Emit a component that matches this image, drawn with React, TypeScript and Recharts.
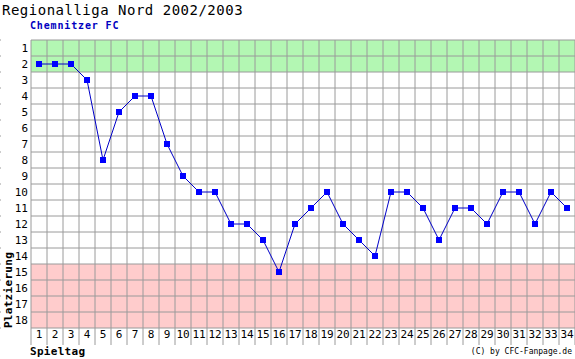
import { CartesianGrid, Line, LineChart, XAxis, YAxis } from "recharts";

const days = Array.from({ length: 34 }, (_, i) => i + 1);
const places = Array.from({ length: 18 }, (_, i) => i + 1);
const ranks = [
  2, 2, 2, 3, 8, 5, 4, 4, 7, 9, 10, 10, 12, 12, 13, 15, 12, 11, 10, 12, 13, 14,
  10, 10, 11, 13, 11, 11, 12, 10, 10, 12, 10, 11
];
const promotionPlaces = 2;
const relegationFrom = 15;

const data = days.map((day, i) => ({ day, rank: ranks[i] }));
const dayDomain: [number, number] = [0.5, days.length + 0.5];
const placeDomain: [number, number] = [0.5, places.length + 0.5];
const dayLines = [...days.map((d) => d - 0.5), days.length + 0.5];
const placeLines = [...places.map((p) => p - 0.5), places.length + 0.5];
const rowFills = places.map((p) =>
  p <= promotionPlaces ? "#b3f7b3" : p >= relegationFrom ? "#ffcccc" : "#ffffff"
);

const mono = "'DejaVu Sans Mono', monospace";
const gridColor = "#9a9a9a";
const labelStyle = { fill: "#000", fontSize: 11, fontFamily: mono };
const sepStyle = { stroke: gridColor };

// recharts 3 hands the grid generators either a plain d3 scale or a wrapper
function project(axis: any, values: number[]) {
  const s = axis?.scale;
  if (typeof s === "function") return values.map((v) => s(v));
  if (s && typeof s.map === "function") return values.map((v) => s.map(v));
  if (s && typeof s.apply === "function") return values.map((v) => s.apply(v));
  return [];
}

const blank = () => "";
const vGen = ({ xAxis }: any) => project(xAxis, dayLines);
const hGen = ({ yAxis }: any) => project(yAxis, placeLines);

function SquareDot(props: any) {
  const { cx, cy, index } = props;
  if (cx == null || cy == null) return null;
  return <rect key={index} x={cx - 3} y={cy - 3} width={6} height={6} fill="#0000ff" />;
}

export default function App() {
  return (
    <div
      style={{
        position: "absolute",
        left: 0,
        top: 0,
        width: 575,
        height: 359,
        background: "#fff",
        fontFamily: mono,
        overflow: "hidden"
      }}
    >
      <LineChart
        width={575}
        height={359}
        data={data}
        margin={{ top: 40, right: 0, bottom: 10, left: 0 }}
      >
        <CartesianGrid
          xAxisId="cols"
          yAxisId="rows"
          stroke={gridColor}
          strokeOpacity={1}
          horizontalFill={rowFills}
          fillOpacity={1}
          verticalCoordinatesGenerator={vGen}
          horizontalCoordinatesGenerator={hGen}
        />
        <XAxis
          xAxisId="cols"
          dataKey="day"
          type="number"
          domain={dayDomain}
          ticks={dayLines}
          interval={0}
          allowDataOverflow
          height={1}
          tickFormatter={blank}
          tickSize={17}
          axisLine={false}
          tickLine={sepStyle}
        />
        <XAxis
          xAxisId="day"
          dataKey="day"
          type="number"
          domain={dayDomain}
          ticks={days}
          interval={0}
          allowDataOverflow
          height={20}
          tickSize={0}
          tickMargin={1}
          axisLine={false}
          tickLine={false}
          tick={labelStyle}
        />
        <YAxis
          yAxisId="rows"
          dataKey="rank"
          type="number"
          reversed
          domain={placeDomain}
          ticks={placeLines}
          interval={0}
          allowDataOverflow
          width={1}
          tickFormatter={blank}
          tickSize={18}
          axisLine={false}
          tickLine={sepStyle}
        />
        <YAxis
          yAxisId="rank"
          dataKey="rank"
          type="number"
          reversed
          domain={placeDomain}
          ticks={places}
          interval={0}
          allowDataOverflow
          width={30}
          tickSize={0}
          tickMargin={3}
          axisLine={false}
          tickLine={false}
          tick={labelStyle}
        />
        <Line
          xAxisId="cols"
          yAxisId="rows"
          dataKey="rank"
          stroke="#0000c8"
          strokeWidth={1}
          dot={SquareDot}
          activeDot={false}
          isAnimationActive={false}
        />
      </LineChart>
      <div
        style={{
          position: "absolute",
          left: 2,
          top: 2,
          fontSize: 14,
          letterSpacing: 0.5,
          lineHeight: "16px",
          color: "#000"
        }}
      >
        Regionalliga Nord 2002/2003
      </div>
      <div
        style={{
          position: "absolute",
          left: 30,
          top: 20,
          fontSize: 10,
          fontWeight: "bold",
          letterSpacing: 0.85,
          lineHeight: "12px",
          color: "#0000c0"
        }}
      >
        Chemnitzer FC
      </div>
      <div
        style={{
          position: "absolute",
          left: 30,
          top: 345,
          fontSize: 11,
          fontWeight: "bold",
          letterSpacing: 0.3,
          lineHeight: "13px",
          color: "#000"
        }}
      >
        Spieltag
      </div>
      <div
        style={{
          position: "absolute",
          left: 8,
          top: 290,
          transform: "translate(-50%, -50%) rotate(-90deg)",
          fontSize: 11,
          fontWeight: "bold",
          letterSpacing: 0.3,
          lineHeight: "13px",
          whiteSpace: "nowrap",
          color: "#000"
        }}
      >
        Platzierung
      </div>
      <div
        style={{
          position: "absolute",
          right: 3,
          top: 347,
          fontSize: 8,
          lineHeight: "10px",
          color: "#000"
        }}
      >
        (C) by CFC-Fanpage.de
      </div>
    </div>
  );
}
